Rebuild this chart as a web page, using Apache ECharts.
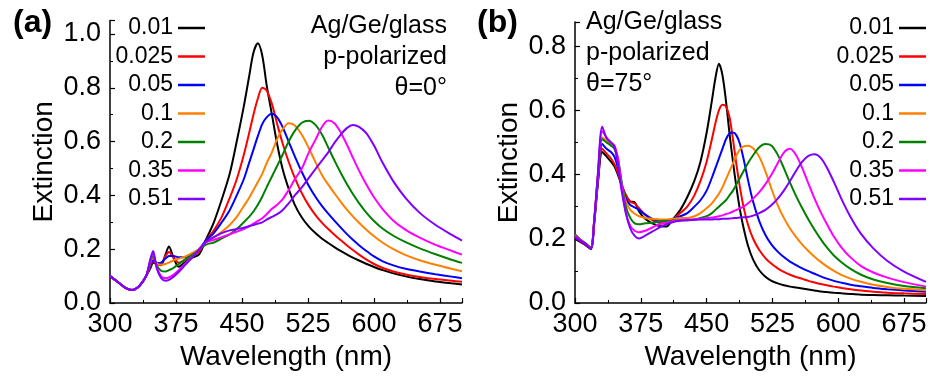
<!DOCTYPE html>
<html>
<head>
<meta charset="utf-8">
<title>Extinction spectra, Ag/Ge/glass</title>
<script src="https://cdn.jsdelivr.net/npm/echarts@6.0.0/dist/echarts.min.js"></script>
<style>
  html, body { margin: 0; padding: 0; background: #fff; }
  #chart { width: 932px; height: 379px; }
</style>
</head>
<body>
<div id="chart"></div>
<script>
// roughness values (legend labels) and line colours
const roughness = ["0.01", "0.025", "0.05", "0.1", "0.2", "0.35", "0.51"];
const colors = ["#000000", "#ff0000", "#0000ff", "#ff8000", "#008000", "#ff00ff", "#8000ff"];

// (a) theta = 0 deg
const waveA = [300, 310, 318, 325, 333, 341, 346, 349, 353, 358,
  363, 367, 372, 378, 385, 393, 401, 409, 418, 427,
  436, 444, 452, 458, 463, 468, 473, 478, 484, 490,
  496, 503, 510, 518, 526, 534, 541, 548, 555, 562,
  569, 576, 583, 591, 600, 610, 622, 636, 652, 670,
  688, 700];

const a001 = [.100, .075, .055, .048, .062, .100, .130, .150, .145, .140,
  .180, .210, .170, .135, .150, .168, .180, .235, .300, .385,
  .480, .600, .730, .840, .930, .965, .920, .810, .700, .590,
  .500, .425, .365, .318, .284, .258, .239, .223, .208, .194,
  .181, .169, .158, .146, .134, .122, .110, .099, .089, .080,
  .073, .069];
const a0025 = [.100, .075, .055, .048, .062, .100, .135, .155, .148, .148,
  .175, .190, .170, .150, .160, .175, .190, .232, .270, .320,
  .390, .460, .550, .630, .700, .760, .800, .790, .740, .665,
  .595, .525, .465, .408, .362, .325, .298, .275, .254, .234,
  .215, .197, .180, .162, .145, .130, .117, .106, .097, .089,
  .083, .079];
const a005 = [.100, .075, .055, .048, .062, .100, .140, .160, .148, .150,
  .165, .175, .175, .170, .170, .180, .200, .232, .260, .300,
  .345, .400, .460, .520, .570, .620, .665, .690, .703, .690,
  .655, .600, .545, .487, .435, .392, .360, .332, .306, .281,
  .257, .235, .215, .194, .173, .155, .140, .127, .117, .107,
  .098, .092];
const a01 = [.100, .075, .055, .048, .062, .100, .150, .170, .148, .142,
  .145, .150, .158, .165, .172, .185, .200, .226, .245, .265,
  .290, .320, .360, .390, .420, .450, .480, .520, .560, .610,
  .645, .668, .660, .625, .575, .520, .475, .440, .408, .377,
  .348, .322, .298, .273, .248, .224, .200, .178, .159, .142,
  .127, .118];
const a02 = [.100, .075, .055, .048, .062, .100, .155, .175, .140, .120,
  .117, .122, .130, .145, .160, .178, .197, .217, .225, .240,
  .255, .275, .300, .320, .340, .365, .395, .430, .470, .510,
  .550, .600, .640, .670, .677, .660, .625, .578, .530, .485,
  .443, .405, .371, .337, .305, .276, .250, .226, .203, .181,
  .161, .149];
const a035 = [.100, .075, .055, .048, .062, .100, .160, .185, .135, .100,
  .092, .095, .105, .122, .145, .170, .197, .225, .235, .245,
  .255, .265, .275, .285, .295, .305, .315, .330, .350, .365,
  .385, .420, .460, .500, .560, .610, .655, .678, .668, .635,
  .590, .540, .492, .442, .393, .348, .306, .272, .243, .216,
  .194, .180];
const a051 = [.100, .075, .055, .048, .062, .100, .165, .193, .130, .093,
  .083, .086, .097, .115, .140, .168, .197, .228, .245, .260,
  .270, .275, .280, .285, .290, .295, .300, .310, .320, .330,
  .345, .370, .400, .430, .465, .500, .530, .560, .595, .625,
  .650, .662, .655, .632, .585, .520, .452, .390, .335, .290,
  .254, .232];

// (b) theta = 75 deg
const waveB = [300, 306, 312, 318, 322, 326, 331, 336, 341, 345,
  349, 353, 358, 363, 368, 373, 380, 388, 396, 404,
  412, 420, 428, 436, 443, 450, 456, 460, 464, 468,
  472, 476, 480, 484, 488, 492, 497, 503, 510, 517,
  524, 531, 538, 545, 552, 559, 566, 573, 580, 587,
  595, 604, 614, 626, 640, 656, 675, 700];

const b001 = [.200, .190, .180, .168, .250, .370, .470, .456, .440, .425,
  .399, .368, .336, .316, .314, .285, .262, .248, .240, .238,
  .262, .290, .330, .380, .440, .530, .630, .700, .745, .710,
  .630, .530, .440, .360, .290, .235, .180, .135, .102, .082,
  .069, .061, .055, .051, .048, .045, .042, .039, .036, .034,
  .032, .030, .028, .026, .025, .024, .023, .022];
const b0025 = [.205, .192, .182, .170, .255, .375, .480, .465, .450, .432,
  .405, .370, .335, .315, .310, .295, .275, .258, .250, .248,
  .262, .280, .300, .335, .380, .440, .510, .560, .600, .617,
  .612, .580, .510, .430, .360, .300, .245, .200, .165, .140,
  .122, .108, .097, .088, .081, .075, .069, .064, .059, .055,
  .051, .047, .043, .039, .035, .032, .030, .028];
const b005 = [.205, .193, .183, .170, .258, .380, .495, .480, .470, .455,
  .420, .370, .325, .305, .298, .290, .275, .262, .255, .255,
  .262, .270, .280, .300, .320, .350, .390, .420, .450, .480,
  .510, .528, .531, .522, .495, .450, .385, .315, .255, .212,
  .182, .160, .143, .129, .118, .108, .099, .091, .083, .076,
  .069, .063, .057, .052, .047, .043, .039, .035];
const b01 = [.213, .198, .186, .172, .262, .390, .515, .505, .495, .480,
  .440, .375, .315, .290, .278, .270, .265, .262, .260, .260,
  .262, .265, .265, .270, .280, .295, .310, .325, .340, .360,
  .385, .410, .435, .460, .478, .488, .490, .482, .455, .410,
  .355, .305, .265, .232, .205, .182, .162, .144, .128, .114,
  .100, .087, .076, .066, .057, .050, .044, .040];
const b02 = [.213, .198, .186, .172, .262, .390, .510, .500, .490, .480,
  .450, .380, .300, .265, .248, .245, .248, .250, .253, .255,
  .257, .258, .258, .260, .265, .270, .280, .290, .300, .310,
  .320, .335, .350, .370, .390, .410, .435, .460, .485, .495,
  .490, .462, .420, .375, .333, .295, .260, .228, .199, .173,
  .148, .126, .106, .088, .073, .062, .053, .046];
const b035 = [.210, .196, .185, .171, .262, .395, .535, .515, .500, .490,
  .450, .370, .280, .240, .225, .220, .225, .235, .245, .250,
  .255, .258, .260, .260, .262, .264, .266, .268, .270, .273,
  .277, .280, .285, .290, .295, .300, .310, .325, .345, .370,
  .400, .435, .468, .480, .460, .420, .372, .325, .283, .246,
  .207, .172, .142, .115, .095, .079, .065, .051];
const b051 = [.205, .194, .184, .170, .262, .400, .549, .513, .500, .487,
  .430, .352, .279, .232, .209, .201, .210, .222, .235, .245,
  .252, .256, .258, .259, .260, .260, .260, .261, .261, .262,
  .262, .263, .264, .265, .266, .267, .268, .272, .280, .290,
  .305, .325, .350, .380, .412, .440, .458, .463, .452, .422,
  .377, .322, .268, .215, .170, .131, .098, .066];

const seriesA = [a001, a0025, a005, a01, a02, a035, a051];
const seriesB = [b001, b0025, b005, b01, b02, b035, b051];

const FONT = "Liberation Sans";

function makeXAxis(gridIndex) {
  return {
    gridIndex: gridIndex,
    type: "value",
    min: 300,
    max: 700,
    interval: 75,
    name: "Wavelength (nm)",
    nameLocation: "middle",
    nameGap: 40,
    nameTextStyle: { fontSize: 28, color: "#000", fontFamily: FONT },
    axisLine: { onZero: false, lineStyle: { color: "#000", width: 1.5 } },
    axisTick: { inside: true, length: 5, lineStyle: { color: "#000", width: 1.2 } },
    minorTick: { show: true, splitNumber: 2, length: 3, lineStyle: { color: "#000", width: 1 } },
    splitLine: { show: false },
    axisLabel: {
      color: "#000", fontSize: 27, fontFamily: FONT, margin: 8,
      showMaxLabel: false,
    },
  };
}

function makeYAxis(gridIndex, max) {
  return {
    gridIndex: gridIndex,
    type: "value",
    min: 0,
    max: max,
    interval: 0.2,
    name: "Extinction",
    nameLocation: "middle",
    nameGap: 52,
    nameTextStyle: { fontSize: 28, color: "#000", fontFamily: FONT },
    axisLine: { show: true, onZero: false, lineStyle: { color: "#000", width: 1.5 } },
    axisTick: { show: true, inside: true, length: 5, lineStyle: { color: "#000", width: 1.2 } },
    minorTick: { show: true, splitNumber: 2, length: 3, lineStyle: { color: "#000", width: 1 } },
    splitLine: { show: false },
    axisLabel: {
      color: "#000", fontSize: 27, fontFamily: FONT, margin: 9,
      showMaxLabel: false,
      formatter: (v) => v.toFixed(1),
    },
  };
}

function makeLegend(right) {
  return {
    data: roughness,
    orient: "vertical",
    align: "right",
    right: right,
    top: 16.5,
    padding: 0,
    itemGap: 5.5,
    icon: "rect",
    itemWidth: 27,
    itemHeight: 2.5,
    selectedMode: false,
    textStyle: { fontSize: 23, lineHeight: 23, color: "#000", fontFamily: FONT },
  };
}

function makeSeries(waves, list, axisIndex) {
  return list.map((vals, i) => ({
    name: roughness[i],
    type: "line",
    xAxisIndex: axisIndex,
    yAxisIndex: axisIndex,
    data: waves.map((w, k) => [w, vals[k]]),
    showSymbol: false,
    smooth: 0.3,
    color: colors[i],
    lineStyle: { width: 2, color: colors[i] },
    itemStyle: { color: colors[i] },
  }));
}

function textEl(text, x, y, align, font) {
  return {
    type: "text",
    x: x,
    y: y,
    style: {
      text: text,
      font: font,
      fill: "#000",
      align: align,
      verticalAlign: "middle",
    },
  };
}

function getOptions() {
  const note = '25px "Liberation Sans"';
  const panel = 'bold 32px "Liberation Sans"';
  return {
    animation: false,
    backgroundColor: "#fff",
    grid: [
      { left: 110, top: 20.5, width: 352, height: 282.5 },
      { left: 575, top: 22, width: 351, height: 281 },
    ],
    xAxis: [makeXAxis(0), makeXAxis(1)],
    yAxis: [makeYAxis(0, 1.05), makeYAxis(1, 0.875)],
    legend: [makeLegend(727), makeLegend(6)],
    graphic: [
      textEl("(a)", 13, 23, "left", panel),
      textEl("(b)", 477, 23, "left", panel),
      textEl("Ag/Ge/glass", 447, 26, "right", note),
      textEl("p-polarized", 447, 57, "right", note),
      textEl("θ=0°", 447, 88, "right", note),
      textEl("Ag/Ge/glass", 586, 22, "left", note),
      textEl("p-polarized", 586, 53, "left", note),
      textEl("θ=75°", 586, 84, "left", note),
    ],
    series: makeSeries(waveA, seriesA, 0).concat(makeSeries(waveB, seriesB, 1)),
  };
}

const chart = echarts.init(document.getElementById("chart"));
chart.setOption(getOptions());
</script>
</body>
</html>
